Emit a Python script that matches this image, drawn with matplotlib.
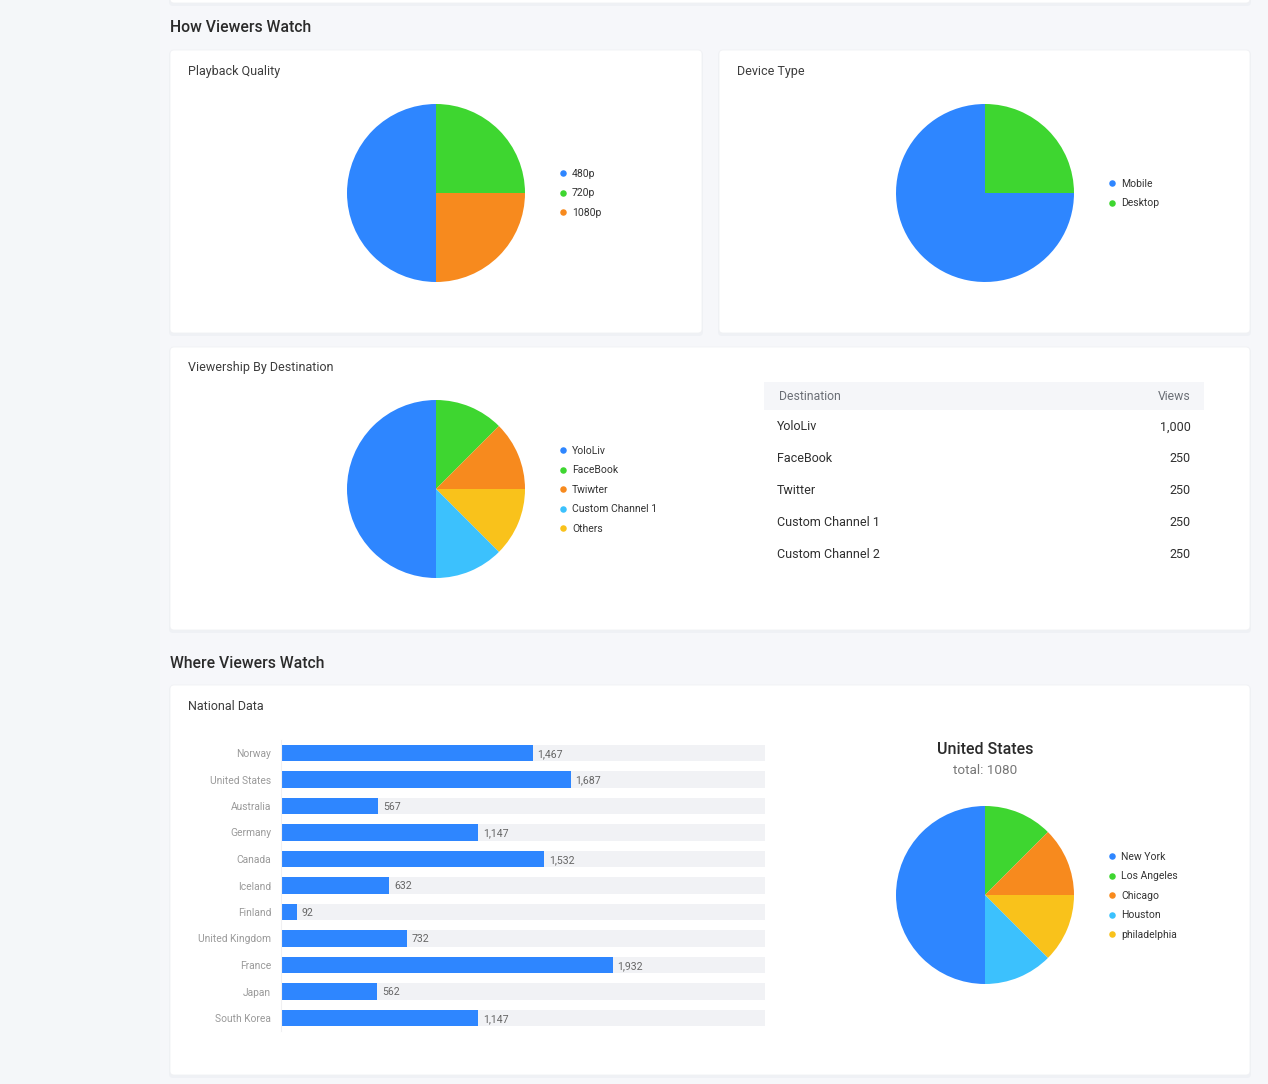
import matplotlib
matplotlib.use("Agg")
import matplotlib.pyplot as plt
from matplotlib.patches import FancyBboxPatch, Rectangle

plt.rcParams["font.family"] = ["Roboto", "DejaVu Sans"]

W, H = 1268, 1084

BLUE = "#2e86ff"
GREEN = "#3ed630"
ORANGE = "#f78a1e"
SKY = "#3cc1fd"
YELLOW = "#f9c21b"

# playback quality
quality_labels = ["480p", "720p", "1080p"]
quality_share = [50, 25, 25]
quality_colors = [BLUE, GREEN, ORANGE]

# device type
device_labels = ["Mobile", "Desktop"]
device_share = [75, 25]
device_colors = [BLUE, GREEN]

# destination pie (legend order)
dest_labels = ["YoloLiv", "FaceBook", "Twiwter", "Custom Channel 1", "Others"]
dest_views = [1000, 250, 250, 250, 250]
dest_colors = [BLUE, GREEN, ORANGE, SKY, YELLOW]
dest_draw_order = [0, 1, 2, 4, 3]

# destination table
table_names = ["YoloLiv", "FaceBook", "Twitter", "Custom Channel 1", "Custom Channel 2"]
table_views = [1000, 250, 250, 250, 250]

# national data
countries = ["Norway", "United States", "Australia", "Germany", "Canada", "Iceland",
             "Finland", "United Kingdom", "France", "Japan", "South Korea"]
country_views = [1467, 1687, 567, 1147, 1532, 632, 92, 732, 1932, 562, 1147]
bar_axis_max = 2820

# united states cities
city_labels = ["New York", "Los Angeles", "Chicago", "Houston", "philadelphia"]
city_views = [540, 135, 135, 135, 135]
city_colors = [BLUE, GREEN, ORANGE, SKY, YELLOW]
city_draw_order = [0, 1, 2, 4, 3]

fig = plt.figure(figsize=(W / 100, H / 100), dpi=100)
fig.patch.set_facecolor("#f6f7fa")

bg = fig.add_axes([0, 0, 1, 1])
bg.set_xlim(0, W)
bg.set_ylim(H, 0)
bg.axis("off")
bg.add_patch(Rectangle((0, 0), 160, H, color="#f4f7f9", lw=0))


def px_axes(x0, y0, x1, y1):
    return fig.add_axes([x0 / W, 1 - y1 / H, (x1 - x0) / W, (y1 - y0) / H])


def card(x0, y0, x1, y1):
    bg.add_patch(FancyBboxPatch((x0 - 1, y0 + 1), x1 - x0 + 2, y1 - y0 + 2,
                                boxstyle="round,pad=0,rounding_size=4",
                                fc="#eef0f4", ec="none", alpha=0.8))
    bg.add_patch(FancyBboxPatch((x0, y0), x1 - x0, y1 - y0,
                                boxstyle="round,pad=0,rounding_size=4",
                                fc="white", ec="#f0f1f4", lw=0.6))


card(170, -20, 1250, 3)
card(170, 50, 702, 333)
card(719, 50, 1250, 333)
card(170, 347, 1250, 630)
card(170, 685, 1250, 1075)

bg.text(170, 28, "How Viewers Watch", fontsize=11.3, fontweight="medium",
        color="#2b2b2b", va="center")
bg.text(170, 663, "Where Viewers Watch", fontsize=11.3, fontweight="medium",
        color="#2b2b2b", va="center")
for x, y, t in [(188, 72, "Playback Quality"), (737, 72, "Device Type"),
                (188, 368, "Viewership By Destination"), (188, 706, "National Data")]:
    bg.text(x, y, t, fontsize=9, color="#3d3d3d", va="center")


def pie(cx, cy, r, values, colors, start):
    ax = px_axes(cx - r, cy - r, cx + r, cy + r)
    ax.pie(values, colors=colors, startangle=start, counterclock=False,
           radius=1, wedgeprops=dict(linewidth=0))
    ax.set_xlim(-1, 1)
    ax.set_ylim(-1, 1)
    return ax


def legend(x, y, labels, colors, step=19.5):
    for i, (lab, col) in enumerate(zip(labels, colors)):
        bg.scatter([x], [y + i * step], s=22, color=col, lw=0)
        bg.text(x + 9, y + i * step + 0.8, lab, fontsize=7.5, color="#333333", va="center")


pie(436, 193, 89, quality_share, quality_colors, 270)
legend(563, 173, quality_labels, quality_colors)

pie(985, 193, 89, device_share, device_colors, 0)
legend(1112, 183, device_labels, device_colors)

pie(436, 489, 89, [dest_views[i] for i in dest_draw_order],
    [dest_colors[i] for i in dest_draw_order], 270)
legend(563, 450, dest_labels, dest_colors)

# table
bg.add_patch(Rectangle((764, 382), 440, 28, color="#f5f6f9", lw=0))
bg.text(779, 397, "Destination", fontsize=8.8, color="#6b6f76", va="center")
bg.text(1191, 397, "Views", fontsize=8.8, color="#6b6f76", va="center", ha="right")
for i, (name, v) in enumerate(zip(table_names, table_views)):
    yy = 427 + i * 32
    bg.text(777, yy, name, fontsize=9, color="#2f2f2f", va="center")
    bg.text(1191, yy, f"{v:,}", fontsize=9, color="#2f2f2f", va="center", ha="right")

# national bars
bx = px_axes(281, 739.75, 765, 1031.25)
ypos = list(range(len(countries)))
bx.barh(ypos, [bar_axis_max] * len(countries), height=0.64, color="#f1f2f5", lw=0)
bx.barh(ypos, country_views, height=0.64, color=BLUE, lw=0)
for yv, v in zip(ypos, country_views):
    bx.annotate(f"{v:,}", xy=(v, yv), xytext=(3.5, -0.6), textcoords="offset points",
                va="center", ha="left", fontsize=7.6, color="#666666")
bx.set_xlim(0, bar_axis_max)
bx.set_ylim(len(countries) - 0.5, -0.5)
bx.set_yticks(ypos)
bx.set_yticklabels(countries, fontsize=7.4, color="#9a9a9a")
bx.tick_params(axis="y", length=0, pad=7)
bx.set_xticks([])
for s in ["top", "right", "bottom"]:
    bx.spines[s].set_visible(False)
bx.spines["left"].set_color("#f0f0f2")
bx.set_facecolor("none")

# united states pie
bg.text(985, 749, "United States", fontsize=11.5, fontweight="medium",
        color="#2b2b2b", ha="center", va="center")
bg.text(985, 771, "total: 1080", fontsize=9.7, color="#777777", ha="center", va="center")
pie(985, 895, 89, [city_views[i] for i in city_draw_order],
    [city_colors[i] for i in city_draw_order], 270)
legend(1112, 856, city_labels, city_colors)

fig.savefig("out.png", dpi=100, facecolor=fig.get_facecolor())
